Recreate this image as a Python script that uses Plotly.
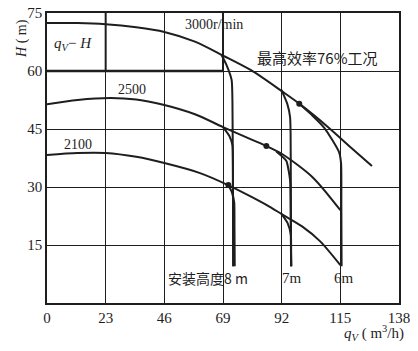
import plotly.graph_objects as go

# ---- data ----
x_ticks = [0, 23, 46, 69, 92, 115, 138]
y_ticks = [15, 30, 45, 60, 75]

q_3000 = [0, 12, 23, 35, 46, 58, 69, 80, 92, 99, 110, 120, 127.4]
H_3000 = [72.4, 72.4, 72.1, 71.3, 70.1, 67.6, 64.0, 60.2, 54.8, 51.5, 45.6, 39.7, 35.4]

q_2500 = [0, 12, 25, 35, 46, 58, 69, 80, 86, 92, 104, 115]
H_2500 = [51.4, 52.5, 53.0, 52.6, 51.2, 48.8, 45.5, 42.3, 40.6, 38.6, 32.6, 24.0]

q_2100 = [0, 12, 23, 35, 46, 60, 71, 80, 87, 92, 100, 107, 115]
H_2100 = [38.3, 38.8, 38.8, 37.8, 36.2, 33.6, 30.5, 27.5, 25.0, 23.0, 19.8, 16.0, 9.8]

# cavitation branches (installation height 8 m, 7 m, 6 m)
q_3000_8m = [68.4, 70.4, 72.4, 72.7, 72.9, 73.0]
H_3000_8m = [64.2, 61.5, 57.6, 52.0, 30.0, 9.5]
q_3000_7m = [91.9, 94.2, 95.3, 95.5, 95.6, 95.7]
H_3000_7m = [55.1, 51.5, 48.1, 44.0, 30.0, 9.5]
q_3000_6m = [98.9, 104.0, 108.7, 111.8, 114.5, 115.3, 115.4, 115.5]
H_3000_6m = [51.5, 48.5, 45.3, 42.2, 39.0, 36.0, 25.0, 9.5]

q_2500_8m = [69.0, 71.5, 72.7, 72.9, 73.0]
H_2500_8m = [45.5, 43.2, 40.8, 30.0, 9.5]
q_2500_7m = [89.9, 93.8, 95.3, 95.5, 95.7]
H_2500_7m = [39.2, 36.8, 31.8, 25.0, 9.5]

q_2100_8m = [71.1, 72.5, 73.4, 73.5, 73.6]
H_2100_8m = [30.5, 28.6, 26.0, 20.0, 9.5]
q_2100_7m = [92.0, 94.3, 95.6, 95.7, 95.8]
H_2100_7m = [23.0, 20.7, 17.6, 13.0, 9.5]

q_best = [98.9, 86.0, 71.1]
H_best = [51.5, 40.6, 30.5]

INK = "#1e1e1e"
SERIF = "Liberation Serif, DejaVu Serif, serif"
CJK = "Noto Sans CJK SC"

fig = go.Figure()

main_curves = [(q_3000, H_3000), (q_2500, H_2500), (q_2100, H_2100)]
for q, H in main_curves:
    fig.add_trace(go.Scatter(x=q, y=H, mode="lines",
                             line=dict(color=INK, width=2, shape="spline", smoothing=0.8),
                             hoverinfo="skip", showlegend=False))

branches = [(q_3000_8m, H_3000_8m), (q_3000_7m, H_3000_7m), (q_3000_6m, H_3000_6m),
            (q_2500_8m, H_2500_8m), (q_2500_7m, H_2500_7m),
            (q_2100_8m, H_2100_8m), (q_2100_7m, H_2100_7m)]
for q, H in branches:
    fig.add_trace(go.Scatter(x=q, y=H, mode="lines",
                             line=dict(color=INK, width=2, shape="spline", smoothing=0.5),
                             hoverinfo="skip", showlegend=False))

fig.add_trace(go.Scatter(x=q_best, y=H_best, mode="markers",
                         marker=dict(color=INK, size=6),
                         hoverinfo="skip", showlegend=False))

# emphasised frame around the qV-H label
fig.add_shape(type="line", x0=0, x1=69, y0=60, y1=60, line=dict(color=INK, width=2.5), layer="below")
fig.add_shape(type="line", x0=23, x1=23, y0=60, y1=75, line=dict(color=INK, width=2), layer="below")
fig.add_shape(type="line", x0=69, x1=69, y0=60, y1=75, line=dict(color=INK, width=2), layer="below")

ann = [
    dict(x=10, y=67, text="<i>q<sub>V</sub></i>− <i>H</i>", font=dict(family=SERIF, size=15)),
    dict(x=65.5, y=72.0, text="3000r/min", font=dict(family=SERIF, size=14)),
    dict(x=33.2, y=55.3, text="2500", font=dict(family=SERIF, size=14)),
    dict(x=12.1, y=40.9, text="2100", font=dict(family=SERIF, size=14)),
    dict(x=106, y=63.6, text="最高效率76%工况", font=dict(family=CJK, size=15)),
    dict(x=63, y=6.4, text="安装高度8 m", font=dict(family=CJK, size=14)),
    dict(x=96.2, y=6.4, text="7m", font=dict(family=SERIF, size=15)),
    dict(x=116.5, y=6.4, text="6m", font=dict(family=SERIF, size=15)),
]
for a in ann:
    fig.add_annotation(x=a["x"], y=a["y"], xref="x", yref="y", text=a["text"],
                       showarrow=False, font=dict(color=INK, **a["font"]))

fig.add_annotation(xref="paper", yref="y", x=-0.10, y=68.5, text="<i>H</i> ( m)",
                   textangle=-90, showarrow=False,
                   font=dict(family=SERIF, size=14, color=INK))
fig.add_annotation(xref="paper", yref="paper", x=1.02, y=-0.105, xanchor="right",
                   yanchor="middle",
                   text="<i>q<sub>V</sub></i> ( m<sup>3</sup>/h)", showarrow=False,
                   font=dict(family=SERIF, size=15, color=INK))

fig.update_xaxes(range=[0, 138], tickvals=x_ticks, ticktext=[str(v) for v in x_ticks],
                 showgrid=True, gridcolor=INK, gridwidth=1,
                 showline=True, linecolor=INK, linewidth=1.5, mirror=True,
                 ticks="", zeroline=False, automargin=False,
                 tickfont=dict(family=SERIF, size=15, color=INK))
fig.update_yaxes(range=[0, 75], tickvals=y_ticks, ticktext=[str(v) for v in y_ticks],
                 showgrid=True, gridcolor=INK, gridwidth=1,
                 showline=True, linecolor=INK, linewidth=1.5, mirror=True,
                 ticks="", zeroline=False, automargin=False,
                 tickfont=dict(family=SERIF, size=15, color=INK))

fig.update_layout(width=418, height=351,
                  margin=dict(l=47, r=19, t=13, b=48),
                  paper_bgcolor="white", plot_bgcolor="white",
                  showlegend=False)

fig.write_html("out.html")
